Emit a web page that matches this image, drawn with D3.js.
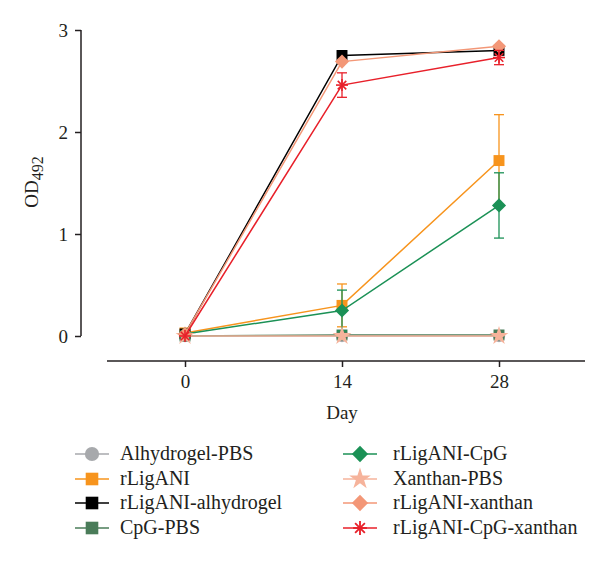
<!DOCTYPE html>
<html><head><meta charset="utf-8">
<script src="https://cdn.jsdelivr.net/npm/d3@7"></script>
<style>body{margin:0;background:#fff}svg{display:block}text{font-family:"Liberation Serif","DejaVu Serif",serif;fill:#231f20}</style>
</head><body><svg id="c" width="600" height="563"></svg>
<script>
const days = [0, 14, 28];
const seriesNames = ["Alhydrogel-PBS","rLigANI","rLigANI-alhydrogel","CpG-PBS","rLigANI-CpG","Xanthan-PBS","rLigANI-xanthan","rLigANI-CpG-xanthan"];
const alhydrogelPBS = [0.00, 0.00, 0.00];
const rLigANI = [0.03, 0.30, 1.72];
const rLigANIErr = [0.00, 0.21, 0.45];
const rLigANIAlhydrogel = [0.02, 2.75, 2.80];
const cpgPBS = [0.00, 0.01, 0.01];
const rLigANICpG = [0.02, 0.25, 1.28];
const rLigANICpGErr = [0.00, 0.20, 0.32];
const xanthanPBS = [0.00, 0.00, 0.00];
const rLigANIXanthan = [0.02, 2.69, 2.84];
const rLigANICpGXanthan = [0.00, 2.46, 2.73];
const rLigANICpGXanthanErr = [0.00, 0.12, 0.07];
const yTicks = [0, 1, 2, 3];

const colors = ["#a7a9ac","#f7941d","#000000","#4a7c59","#1b9156","#f6b39b","#f39777","#e8202a"];
const symbols = ["circle","square","square","square","diamond","star","diamond","asterisk"];
const values = [alhydrogelPBS, rLigANI, rLigANIAlhydrogel, cpgPBS, rLigANICpG, xanthanPBS, rLigANIXanthan, rLigANICpGXanthan];
const errs = [null, rLigANIErr, null, null, rLigANICpGErr, null, null, rLigANICpGXanthanErr];

const svg = d3.select("#c");
const x = d3.scaleLinear().domain([0, 28]).range([185, 499]);
const y = d3.scaleLinear().domain([0, 3]).range([336, 30]);

// y axis
const ya = svg.append("g").attr("transform","translate(81,0)")
  .call(d3.axisLeft(y).tickValues(yTicks).tickSize(6).tickPadding(7).tickFormat(d3.format("d")));
ya.select(".domain").attr("stroke","#231f20").attr("stroke-width",1.5).attr("d","M0,30V336");
ya.selectAll(".tick line").attr("stroke","#231f20").attr("stroke-width",1.5);
ya.selectAll(".tick text").style("font-size","19px").attr("fill","#231f20");

// x axis
const xa = svg.append("g").attr("transform","translate(0,361)")
  .call(d3.axisBottom(x).tickValues(days).tickSize(6).tickPadding(8));
xa.select(".domain").attr("stroke","#231f20").attr("stroke-width",1.5).attr("d","M107,0H585");
xa.selectAll(".tick line").attr("stroke","#231f20").attr("stroke-width",1.5);
xa.selectAll(".tick text").style("font-size","19px").attr("fill","#231f20");

svg.append("text").attr("x",342).attr("y",419).attr("text-anchor","middle").style("font-size","19px").text("Day");
const yl = svg.append("text").attr("transform","translate(38,182) rotate(-90)").attr("text-anchor","middle").style("font-size","19px");
yl.append("tspan").text("OD");
yl.append("tspan").attr("dy",5).style("font-size","16px").text("492");

function drawSymbol(g, type, cx, cy, color, scale) {
  const k = scale || 1;
  const p = g.append("g").attr("transform",`translate(${cx},${cy}) scale(${k})`);
  if (type === "asterisk") {
    const r = 6;
    [0,45,90,135].forEach(a => {
      const rad = a*Math.PI/180;
      p.append("line").attr("x1",-r*Math.cos(rad)).attr("y1",-r*Math.sin(rad))
        .attr("x2",r*Math.cos(rad)).attr("y2",r*Math.sin(rad)).attr("stroke",color).attr("stroke-width",1.6);
    });
    return;
  }
  if (type === "diamond") {
    p.append("path").attr("d", d3.symbol().type(d3.symbolSquare).size(100)())
      .attr("transform","rotate(45)").attr("fill",color);
    return;
  }
  const map = {circle:d3.symbolCircle, square:d3.symbolSquare, star:d3.symbolStar};
  const size = {circle:120, square:120, star:110}[type];
  p.append("path").attr("d", d3.symbol().type(map[type]).size(size)()).attr("fill",color);
}

const line = d3.line().x((d,i)=>x(days[i])).y(d=>y(d));
const plot = svg.append("g");
values.forEach((vals, s) => {
  const g = plot.append("g");
  const e = errs[s];
  if (e) {
    vals.forEach((v,i) => {
      if (e[i] <= 0) return;
      const cx = x(days[i]);
      g.append("line").attr("x1",cx).attr("x2",cx).attr("y1",y(v+e[i])).attr("y2",y(v-e[i])).attr("stroke",colors[s]).attr("stroke-width",1.3);
      [v+e[i], v-e[i]].forEach(t => g.append("line").attr("x1",cx-5).attr("x2",cx+5).attr("y1",y(t)).attr("y2",y(t)).attr("stroke",colors[s]).attr("stroke-width",1.3));
    });
  }
  g.append("path").attr("d", line(vals)).attr("fill","none").attr("stroke",colors[s]).attr("stroke-width",1.5);
  vals.forEach((v,i) => drawSymbol(g, symbols[s], x(days[i]), y(v), colors[s]));
});

// legend
const legRows = [454, 479, 503, 528];
const legCols = [{lx:75, tx:120}, {lx:343, tx:393}];
seriesNames.forEach((name, s) => {
  const col = legCols[Math.floor(s/4)];
  const cy = legRows[s%4];
  const g = svg.append("g");
  g.append("line").attr("x1",col.lx).attr("x2",col.lx+34).attr("y1",cy).attr("y2",cy).attr("stroke",colors[s]).attr("stroke-width",1.5);
  drawSymbol(g, symbols[s], col.lx+17, cy, colors[s], 1.15);
  g.append("text").attr("x",col.tx).attr("y",cy+6).style("font-size","20px").text(name);
});
</script></body></html>
